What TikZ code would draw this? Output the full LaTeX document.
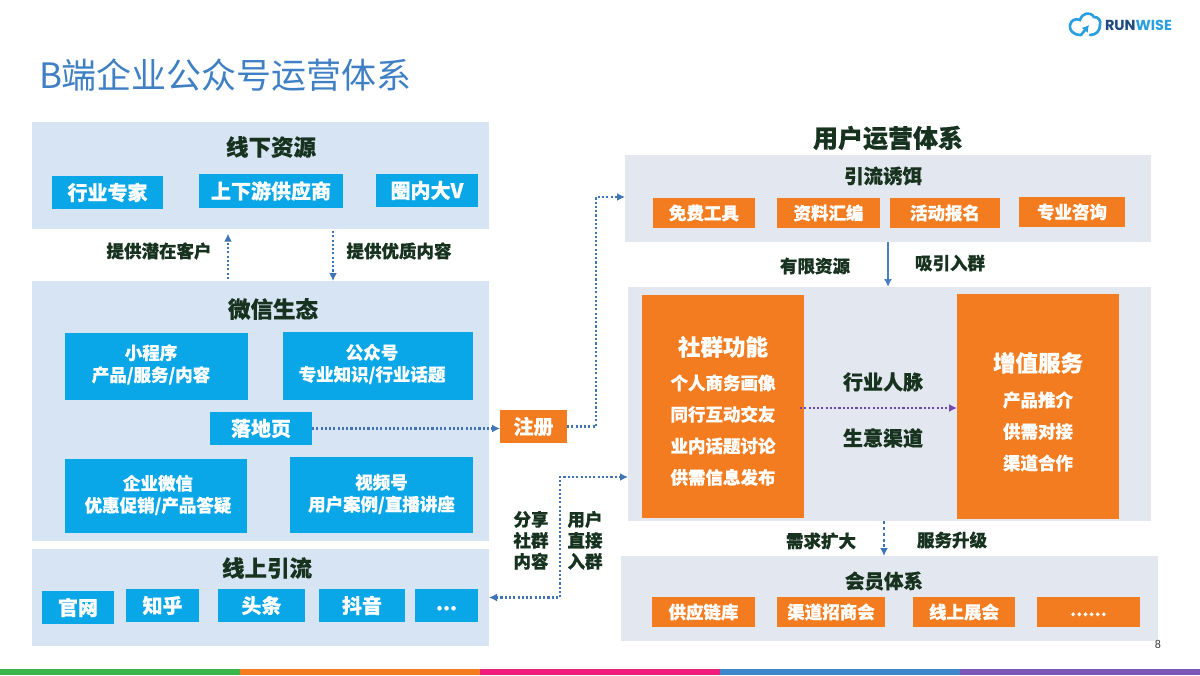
\documentclass[tikz,border=0pt]{standalone}
\usepackage{fontspec}
\setmainfont{Noto Sans CJK SC}[BoldFeatures={FakeBold=0.5}]
\newfontfamily\logofont{Poppins}
\newfontfamily\numfont{Carlito}
\usetikzlibrary{arrows.meta,calc}
\definecolor{panelblue}{HTML}{D6E4F3}
\definecolor{panelgrey}{HTML}{E3E7EF}
\definecolor{boxblue}{HTML}{09A6E8}
\definecolor{boxorange}{HTML}{F47C20}
\definecolor{inkdark}{HTML}{17331F}
\definecolor{titleblue}{HTML}{3F80C4}
\definecolor{arrowblue}{HTML}{3F74B5}
\definecolor{arrowsolid}{HTML}{4A80C4}
\definecolor{arrowpurple}{HTML}{7048B0}
\definecolor{logoblue}{HTML}{2A9FE0}
\definecolor{logonavy}{HTML}{1D4A80}
\definecolor{stripgreen}{RGB}{57,181,74}
\definecolor{striporange}{RGB}{244,123,32}
\definecolor{stripred}{RGB}{238,28,122}
\definecolor{stripblue}{RGB}{63,135,201}
\definecolor{strippurple}{RGB}{122,85,181}
\newcommand{\fpx}[2]{\fontsize{\dimexpr #1pt*3/4\relax}{\dimexpr #2pt*3/4\relax}\selectfont\lineskiplimit=-20pt\relax}
% \bx[style]{name}{x1}{y1}{x2}{y2}{text}
\newcommand{\bx}[7][]{%
  \pgfmathsetmacro{\bw}{(#5-#3)*0.75}\pgfmathsetmacro{\bh}{(#6-#4)*0.75}%
  \node[#1,minimum width=\bw pt,minimum height=\bh pt] (#2) at ({(#3+#5)/2},{(#4+#6)/2}) {#7};}
% \lns{raise pt}{baseline px}{size px}{lines}: block of lines, centred on the node, raised by the given amount
\newcommand{\lns}[4]{\raisebox{\dimexpr #1pt-2.5pt\relax}[0pt][0pt]{\makebox[0pt]{\parbox[c]{220pt}{\centering\fpx{#3}{#2}#4}}}}
% \lnx{double shift pt}{raise pt}{baseline px}{size px}{lines}
\newcommand{\lnx}[5]{\makebox[0pt]{\hspace*{#1pt}\lns{#2}{#3}{#4}{#5}}}
\tikzset{
  x=0.75pt,y=-0.75pt,
  every node/.style={inner sep=0pt,outer sep=0pt},
  panelL/.style={fill=panelblue},
  panelR/.style={fill=panelgrey},
  blue box/.style={fill=boxblue,text=white,font=\bfseries\fpx{20}{24}},
  blue wide/.style={fill=boxblue,text=white,font=\bfseries},
  orange box/.style={fill=boxorange,text=white,font=\bfseries\fpx{17.5}{22}},
  orange big/.style={fill=boxorange,text=white,font=\bfseries},
  head/.style={text=inkdark,font=\bfseries\fpx{22.5}{26}},
  sub head/.style={text=inkdark,font=\bfseries\fpx{19.5}{24}},
  note/.style={text=inkdark,font=\bfseries\fpx{17.5}{22}},
  mid note/.style={text=inkdark,font=\bfseries\fpx{20}{24}},
  dotarrow/.style={draw=arrowblue,line width=1.6pt,dash pattern=on 1.6pt off 1.6pt,-{Latex[length=6pt,width=6pt]}},
  dotarrow both/.style={draw=arrowblue,line width=1.6pt,dash pattern=on 1.6pt off 1.6pt,{Latex[length=6pt,width=6pt]}-{Latex[length=6pt,width=6pt]}},
  solidarrow/.style={draw=arrowsolid,line width=1.1pt,-{Latex[length=6pt,width=6pt]}},
  purplearrow/.style={draw=arrowpurple,line width=1.6pt,dash pattern=on 1.6pt off 1.6pt,-{Latex[length=6pt,width=6pt]}},
}
\begin{document}
\begin{tikzpicture}
\useasboundingbox (0,0) rectangle (1200,675);
\fill[white] (0,0) rectangle (1200,675);

% bottom strip
\fill[stripgreen] (0,669) rectangle (240,675);
\fill[striporange] (240,669) rectangle (480,675);
\fill[stripred] (480,669) rectangle (720,675);
\fill[stripblue] (720,669) rectangle (960,675);
\fill[strippurple] (960,669) rectangle (1200,675);

% title
\node[text=titleblue,font=\fpx{35}{40},anchor=west] (title) at (39,75) {B端企业公众号运营体系};

% logo
\draw[logoblue,line width=2pt,line cap=round]
  (1081,35) .. controls (1073,35) and (1069,30) .. (1070,25)
  .. controls (1071,20) and (1076,18) .. (1080,20)
  .. controls (1082,13) and (1090,11) .. (1094,17)
  .. controls (1099,17) and (1101,21) .. (1100,25)
  .. controls (1100,31) and (1096,35) .. (1090,35);
\draw[logoblue,line width=2pt,-{Latex[length=5pt,width=6pt]}] (1081,35) -- (1089,25);
\node[anchor=west,font=\logofont\bfseries\fpx{14.5}{18}] (logo) at (1105,25.5) {\textcolor{logonavy}{RUN}\textcolor{logoblue}{WISE}};

% left panels
\bx[panelL]{off}{32}{122}{489}{229}{}
\bx[panelL]{wx}{32}{281}{489}{541}{}
\bx[panelL]{onl}{32}{549}{489}{646}{}
\node[head] (offT) at (271,147) {线下资源};
\node[head] (wxT) at (273,309) {微信生态};
\node[head] (onlT) at (267,568) {线上引流};

\bx[blue box]{o1}{52}{176}{163}{209}{行业专家}
\bx[blue box]{o2}{199}{174}{343}{208}{上下游供应商}
\bx[blue box]{o3}{376}{174}{478}{207}{圈内大V}

\bx[blue wide]{w1}{65}{333}{248}{400}{\lnx{-8.2}{1.5}{22}{17.5}{小程序\\产品/服务/内容}}
\bx[blue wide]{w2}{283}{332}{473}{400}{\lnx{-9}{1.5}{22}{17.5}{公众号\\专业知识/行业话题}}
\bx[blue box]{w3}{210}{412}{312}{445}{落地页}
\bx[blue wide]{w4}{65}{459}{247}{533}{\lnx{3}{0.75}{22}{17.5}{企业微信\\优惠促销/产品答疑}}
\bx[blue wide]{w5}{290}{457}{473}{533}{\lnx{0}{0.75}{22}{17.5}{视频号\\用户案例/直播讲座}}

\bx[blue box]{n1}{42}{591}{114}{624}{官网}
\bx[blue box]{n2}{126}{589}{199}{622}{知乎}
\bx[blue box]{n3}{218}{589}{305}{622}{头条}
\bx[blue box]{n4}{319}{589}{405}{622}{抖音}
\bx[blue box]{n5}{415}{589}{478}{622}{\raisebox{-3.5pt}[0pt][0pt]{...}}

% notes left
\node[note] (nA) at (159,251) {提供潜在客户};
\node[note] (nB) at (399,251) {提供优质内容};
\coordinate (upx) at (228,255);
\coordinate (dnx) at (333,255);
\draw[dotarrow,shorten <=1.5pt,shorten >=3.5pt] (upx |- wx.north) -- (upx |- off.south);
\draw[dotarrow,shorten <=1.5pt,shorten >=0pt] (dnx |- off.south) -- (dnx |- wx.north);

% register
\bx[fill=boxorange,text=white,font=\bfseries\fpx{20}{24}]{reg}{500}{410}{567}{443}{注册}
\draw[dotarrow] (w3.east) -- (reg.west |- w3.east);

% right column
\node[text=inkdark,font=\bfseries\fpx{25}{28}] (rT) at (888,138) {用户运营体系};
\bx[panelR]{lead}{625}{155}{1151}{242}{}
\bx[panelR]{mid}{628}{287}{1151}{521}{}
\bx[panelR]{vip}{621}{556}{1158}{641}{}

\node[sub head] (leadT) at (883,176) {引流诱饵};
\bx[orange box]{l1}{653}{198}{755}{228}{免费工具}
\bx[orange box]{l2}{777}{198}{880}{228}{资料汇编}
\bx[orange box]{l3}{890}{198}{1000}{228}{活动报名}
\bx[orange box]{l4}{1019}{197}{1125}{227}{专业咨询}

\node[note] (nC) at (815,266) {有限资源};
\node[note] (nD) at (950,263) {吸引入群};
\coordinate (dropx) at (888,265);
\draw[solidarrow] (dropx |- lead.south) -- (dropx |- mid.north);

\bx[orange big]{soc}{642}{295}{804}{518}{\lns{-3.3}{31.5}{17.5}{{\fpx{22.5}{31.5}社群功能\par\vspace{2pt}}\fpx{17.5}{31.5}个人商务画像\\同行互动交友\\业内话题讨论\\供需信息发布}}
\bx[orange big]{val}{957}{294}{1119}{519}{\lns{-4}{31.5}{17.5}{{\fpx{22.5}{31.5}增值服务\par\vspace{2.7pt}}\fpx{17.5}{31.5}产品推介\\供需对接\\渠道合作}}
\node[mid note] (mA) at (883,382) {行业人脉};
\node[mid note] (mB) at (883,438) {生意渠道};
\coordinate (py) at (880,408);
\draw[purplearrow,shorten <=-3pt] (soc.east |- py) -- (val.west |- py);

\node[note] (nE) at (821,541) {需求扩大};
\node[note] (nF) at (952,540) {服务升级};
\coordinate (vipx) at (884,540);
\draw[dotarrow,line width=2.2pt,dash pattern=on 2.2pt off 2.2pt] (vipx |- mid.south) -- (vipx |- vip.north);

\node[sub head] (vipT) at (884,581) {会员体系};
\bx[orange box]{v1}{652}{597}{755}{627}{供应链库}
\bx[orange box]{v2}{777}{597}{885}{627}{渠道招商会}
\bx[orange box]{v3}{913}{597}{1015}{627}{线上展会}
\bx[orange box]{v4}{1037}{597}{1140}{627}{\raisebox{-3pt}[0pt][0pt]{......}}

% routes
\coordinate (c1) at (596,426.5);
\coordinate (c2) at (596,197);
\draw[dotarrow] (reg.east |- c1) -- (c1) -- (c2) -- (lead.west |- c2);
\coordinate (c3) at (560,477);
\coordinate (c4) at (560,597.5);
\draw[dotarrow both] (onl.east |- c4) -- (c4) -- (c3) -- (mid.west |- c3);
\node[note] (nG) at (531,541) {\lns{0}{21}{17.5}{分享\\社群\\内容}};
\node[note] (nH) at (585,541) {\lns{0}{21}{17.5}{用户\\直接\\入群}};

\node[text=black!75,font=\numfont\fpx{12}{14}] (pg) at (1158,644) {8};
\end{tikzpicture}
\end{document}
